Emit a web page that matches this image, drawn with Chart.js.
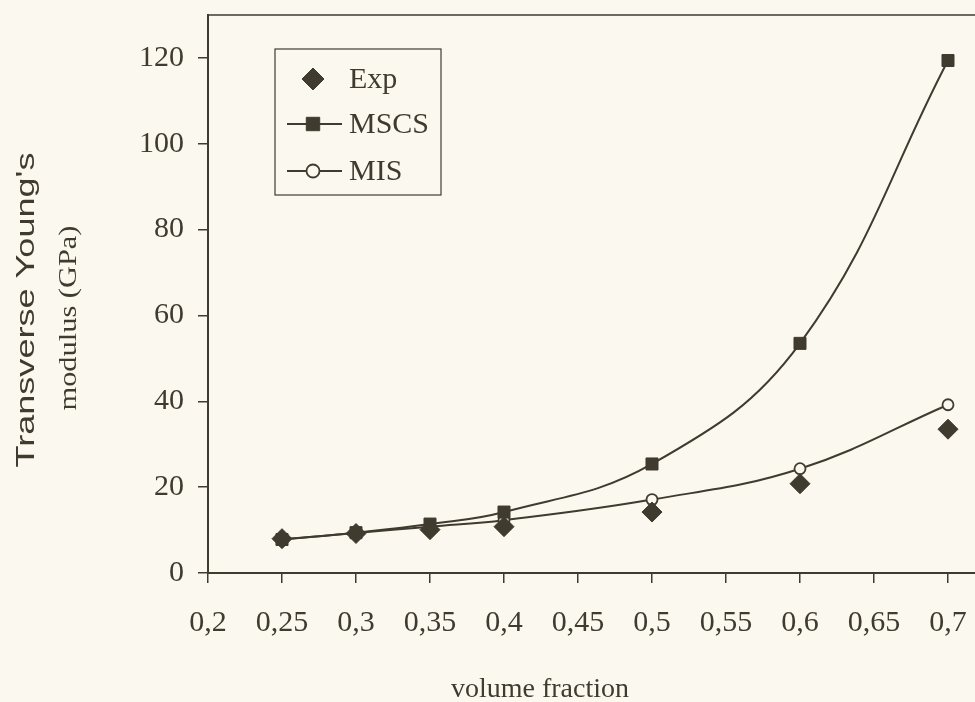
<!DOCTYPE html>
<html>
<head>
<meta charset="utf-8">
<script src="https://cdn.jsdelivr.net/npm/chart.js@4"></script>
<style>
html,body{margin:0;padding:0;background:#fbf9ef;overflow:hidden;width:975px;height:702px;}
#wrap{width:1100px;height:702px;}
</style>
</head>
<body>
<div id="wrap"><canvas id="c" width="1100" height="702"></canvas></div>
<script>
// ---- data ----
const volumeFraction = [0.25, 0.3, 0.35, 0.4, 0.5, 0.6, 0.7];
const expValues  = [8.0, 9.2, 10.1, 10.8, 14.2, 20.8, 33.5];
const mscsValues = [7.8, 9.4, 11.4, 14.2, 25.4, 53.5, 119.4];
const misValues  = [7.8, 9.3, 10.8, 12.3, 17.1, 24.3, 39.2];
const seriesNames = ["Exp", "MSCS", "MIS"];
const xTitle = "volume fraction";
const yTitleLines = ["Transverse Young's", "modulus (GPa)"];

const INK = '#403b2f';
const BG = '#fbf9ef';
const SERIF = '"Liberation Serif", "Times New Roman", serif';
const SANS = '"Liberation Sans", Arial, sans-serif';

const pts = vals => volumeFraction.map((x, i) => ({x: x, y: vals[i]}));

function fmtComma(v){
  const r = Math.round(v * 100) / 100;
  return String(r).replace('.', ',');
}

const bgPlugin = {
  id: 'bg',
  beforeDraw(chart){
    const ctx = chart.ctx;
    ctx.save();
    ctx.fillStyle = BG;
    ctx.fillRect(0, 0, chart.width, chart.height);
    ctx.restore();
  }
};

function drawStretched(ctx, text, x, y, targetLen){
  const w = ctx.measureText(text).width;
  ctx.save();
  ctx.translate(x, y);
  ctx.rotate(-Math.PI / 2);
  ctx.scale(targetLen / w, 1);
  ctx.textAlign = 'center';
  ctx.textBaseline = 'alphabetic';
  ctx.fillText(text, 0, 0);
  ctx.restore();
}

function drawMarkerPath(ctx, style, r, x, y){
  if (style === 'rectRot') {
    ctx.moveTo(x, y - r); ctx.lineTo(x + r, y); ctx.lineTo(x, y + r); ctx.lineTo(x - r, y); ctx.closePath();
  } else if (style === 'rect') {
    const s = r * Math.SQRT1_2;
    ctx.rect(x - s, y - s, 2 * s, 2 * s);
  } else {
    ctx.arc(x, y, r, 0, Math.PI * 2);
  }
}

const decorPlugin = {
  id: 'decor',
  afterDraw(chart){
    const ctx = chart.ctx;
    const a = chart.chartArea;
    ctx.save();
    // plot-area frame (top and right)
    ctx.strokeStyle = INK;
    ctx.lineWidth = 1.5;
    ctx.beginPath();
    ctx.moveTo(a.left, a.top);
    ctx.lineTo(a.right, a.top);
    ctx.lineTo(a.right, a.bottom);
    ctx.stroke();

    // y-axis title (two fonts)
    ctx.fillStyle = INK;
    ctx.font = '25px ' + SANS;
    drawStretched(ctx, yTitleLines[0], 34, 310, 315);
    ctx.font = '25px ' + SERIF;
    drawStretched(ctx, yTitleLines[1], 76, 318, 185);

    // x-axis title
    ctx.font = '28px ' + SERIF;
    ctx.textAlign = 'center';
    ctx.textBaseline = 'alphabetic';
    ctx.fillText(xTitle, 540, 697);

    // legend box
    const bx = 275, by = 49, bw = 166, bh = 146;
    ctx.fillStyle = BG;
    ctx.fillRect(bx, by, bw, bh);
    ctx.lineWidth = 1.2;
    ctx.strokeStyle = INK;
    ctx.strokeRect(bx, by, bw, bh);
    const rowsY = [79, 124, 171];
    chart.data.datasets.forEach((ds, i) => {
      const y = rowsY[i];
      if (ds.showLine !== false) {
        ctx.strokeStyle = ds.borderColor;
        ctx.lineWidth = ds.borderWidth;
        ctx.beginPath();
        ctx.moveTo(287, y);
        ctx.lineTo(342, y);
        ctx.stroke();
      }
      ctx.save();
      ctx.fillStyle = ds.pointBackgroundColor;
      ctx.strokeStyle = ds.pointBorderColor;
      ctx.lineWidth = ds.pointBorderWidth;
      ctx.beginPath();
      drawMarkerPath(ctx, ds.pointStyle, ds.pointRadius + 1, 313, y);
      ctx.fill();
      ctx.stroke();
      ctx.restore();
      ctx.fillStyle = INK;
      ctx.font = '30px ' + SERIF;
      ctx.textAlign = 'left';
      ctx.textBaseline = 'middle';
      ctx.fillText(ds.label, 349, y + 1);
    });
    ctx.restore();
  }
};

new Chart(document.getElementById('c'), {
  type: 'line',
  data: {
    datasets: [
      {
        label: seriesNames[0], data: pts(expValues), showLine: false,
        pointStyle: 'rectRot', pointRadius: 10, pointBorderWidth: 1,
        pointBackgroundColor: INK, pointBorderColor: INK,
        borderColor: INK, borderWidth: 0, order: 0
      },
      {
        label: seriesNames[1], data: pts(mscsValues), showLine: true,
        pointStyle: 'rect', pointRadius: 8.5, pointBorderWidth: 1,
        pointBackgroundColor: INK, pointBorderColor: INK,
        borderColor: INK, borderWidth: 2, tension: 0.4, order: 1
      },
      {
        label: seriesNames[2], data: pts(misValues), showLine: true,
        pointStyle: 'circle', pointRadius: 5.5, pointBorderWidth: 1.8,
        pointBackgroundColor: BG, pointBorderColor: INK,
        borderColor: INK, borderWidth: 2, tension: 0.4, order: 2
      }
    ]
  },
  options: {
    responsive: false,
    animation: false,
    devicePixelRatio: 1,
    layout: { padding: { top: 15, right: 78, left: 0, bottom: 0 } },
    plugins: { legend: { display: false }, tooltip: { enabled: false } },
    elements: { point: { hoverRadius: 0 } },
    scales: {
      x: {
        type: 'linear', min: 0.2, max: 0.75,
        afterFit(s){ s.height = 129; s.paddingLeft = 0; s.paddingRight = 0; },
        afterBuildTicks(s){ s.ticks = s.ticks.filter(t => t.value < 0.74); },
        ticks: {
          stepSize: 0.05, color: INK, padding: 22,
          font: { family: SERIF, size: 30 },
          maxRotation: 0, autoSkip: false,
          callback: v => fmtComma(v)
        },
        grid: { drawOnChartArea: false, drawTicks: true, tickLength: 10, color: INK, lineWidth: 1.5 },
        border: { display: true, color: INK, width: 2 }
      },
      y: {
        min: 0, max: 130,
        afterFit(s){ s.width = 208; s.paddingTop = 0; s.paddingBottom = 0; },
        afterBuildTicks(s){ s.ticks = s.ticks.filter(t => t.value <= 120); },
        ticks: {
          stepSize: 20, color: INK, padding: 14,
          font: { family: SERIF, size: 30 }
        },
        grid: { drawOnChartArea: false, drawTicks: true, tickLength: 10, color: INK, lineWidth: 1.5 },
        border: { display: true, color: INK, width: 2 }
      }
    }
  },
  plugins: [bgPlugin, decorPlugin]
});
</script>
</body>
</html>
